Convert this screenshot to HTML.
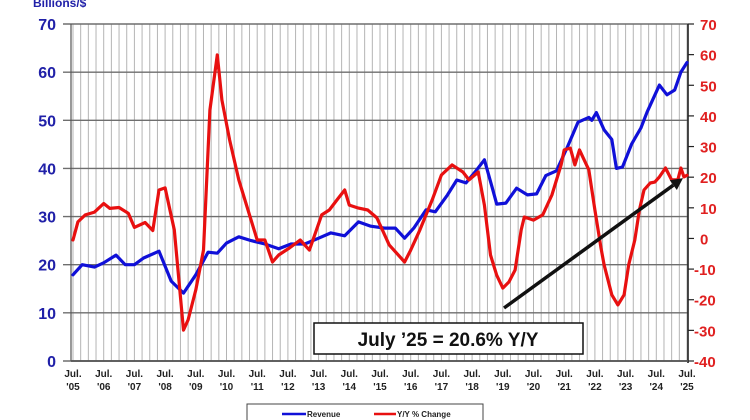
<!DOCTYPE html>
<html><head><meta charset="utf-8"><style>
html,body{margin:0;padding:0;background:#fff;}
svg{display:block;font-family:"Liberation Sans",Arial,sans-serif;}
</style></head><body>
<svg id="c" width="750" height="420" viewBox="0 0 750 420"></svg>
<script>
const revYears=[2005.5,2005.8,2006.2,2006.5,2006.9,2007.2,2007.5,2007.8,2008.3,2008.7,2009.1,2009.5,2009.9,2010.2,2010.5,2010.9,2011.3,2011.75,2012.2,2012.6,2013.05,2013.5,2013.9,2014.35,2014.8,2015.2,2015.65,2016.0,2016.3,2016.6,2017.0,2017.3,2017.7,2018.0,2018.3,2018.6,2018.9,2019.15,2019.3,2019.6,2019.95,2020.3,2020.6,2020.9,2021.25,2021.6,2021.95,2022.3,2022.4,2022.55,2022.8,2023.05,2023.2,2023.4,2023.7,2024.0,2024.2,2024.6,2024.85,2025.1,2025.3,2025.5];
const revValues=[17.9,20.0,19.5,20.4,22.0,20.0,20.0,21.4,22.8,16.6,14.1,17.9,22.6,22.4,24.5,25.8,25.0,24.3,23.3,24.3,24.3,25.5,26.6,26.0,28.9,28.0,27.6,27.6,25.5,27.6,31.4,31.0,34.5,37.6,37.0,39.3,41.8,36.1,32.6,32.8,35.9,34.5,34.7,38.5,39.5,44.4,49.6,50.6,50.0,51.6,48.0,46.0,40.0,40.3,45.1,48.4,51.7,57.3,55.3,56.3,60.0,62.0];
const yoyYears=[2005.5,2005.66,2005.9,2006.2,2006.5,2006.7,2007.0,2007.3,2007.5,2007.85,2008.1,2008.3,2008.5,2008.8,2009.1,2009.25,2009.5,2009.75,2009.96,2010.2,2010.35,2010.6,2010.9,2011.1,2011.3,2011.5,2011.75,2012.0,2012.2,2012.55,2012.9,2013.2,2013.6,2013.85,2014.1,2014.35,2014.5,2014.8,2015.1,2015.4,2015.8,2016.3,2016.5,2016.8,2017.2,2017.5,2017.85,2018.2,2018.4,2018.7,2018.9,2019.1,2019.3,2019.5,2019.7,2019.9,2020.1,2020.2,2020.5,2020.8,2021.1,2021.4,2021.5,2021.7,2021.85,2022.0,2022.3,2022.5,2022.7,2022.8,2023.05,2023.25,2023.45,2023.6,2023.8,2023.95,2024.1,2024.3,2024.45,2024.6,2024.8,2025.0,2025.2,2025.3,2025.4,2025.5];
const yoyValues=[-0.5,5.4,7.7,8.6,11.4,9.8,10.1,8.2,3.6,5.2,2.6,15.8,16.5,2.8,-29.9,-26.6,-16.8,-3.8,41.9,59.9,45.2,32.2,19.1,12.6,6.0,-0.5,-0.5,-7.7,-5.4,-3.1,-0.5,-3.8,7.7,9.3,12.6,15.8,10.9,9.9,9.3,6.7,-2.1,-7.7,-3.8,2.8,12.6,20.7,24.0,21.7,19.1,21.7,10.9,-5.4,-12.0,-16.2,-14.2,-10.3,2.8,7.0,6.0,7.7,14.2,24.0,28.9,29.5,24.0,28.9,22.4,9.3,-3.1,-8.6,-18.4,-21.7,-18.4,-8.6,-0.5,9.3,15.8,18.1,18.4,20.1,23.0,19.1,19.1,23.0,20.1,20.6];
const leftTicks=[0,10,20,30,40,50,60,70];
const rightTicks=[-40,-30,-20,-10,0,10,20,30,40,50,60,70];
const xLabels=["'05","'06","'07","'08","'09","'10","'11","'12","'13","'14","'15","'16","'17","'18","'19","'20","'21","'22","'23","'24","'25"];
const trendStart=[2019.54,-22.7], trendEnd=[2025.37,19.7];

const L=71,R=688,T=24,B=361;
const x=yr=>73+(yr-2005.5)*30.7;
const yL=v=>B-(v-0)/70*(B-T);
const yR=v=>B-(v+40)/110*(B-T);
const NS="http://www.w3.org/2000/svg";
const svg=document.getElementById('c');
function mk(tag,attrs,parent){const e=document.createElementNS(NS,tag);for(const k in attrs)e.setAttribute(k,attrs[k]);(parent||svg).appendChild(e);return e;}

// vertical quarterly grid
const g=mk('g',{});


for(let q=0;q<=81;q++){const xx=x(2005.5+q*0.25);if(xx>L&&xx<R)mk('line',{x1:xx,x2:xx,y1:T,y2:B,stroke:'#b4b4b4','stroke-width':1},g);}
// horizontal grid + left labels
leftTicks.forEach(v=>{
  mk('line',{x1:63,x2:R,y1:yL(v),y2:yL(v),stroke:'#6e6e6e','stroke-width':1.4},g);
  const t=mk('text',{x:56,y:yL(v)+6,'text-anchor':'end','font-size':16,'font-weight':'bold',fill:'#2020a8'});
  t.textContent=v;
  
  
});
rightTicks.forEach(v=>{
  mk('line',{x1:R,x2:R+6,y1:yR(v),y2:yR(v),stroke:'#222','stroke-width':1.2});
  const t=mk('text',{x:v<0?694:700,y:yR(v)+6,'font-size':15,'font-weight':'bold',fill:'#e02020'});
  t.textContent=v;
  
  
});
mk('line',{x1:L,x2:L,y1:T,y2:B,stroke:'#555','stroke-width':1.2});
mk('line',{x1:R,x2:R,y1:T,y2:B+2,stroke:'#222','stroke-width':1.6});
mk('line',{x1:L,x2:R,y1:B,y2:B,stroke:'#555','stroke-width':1.8});
const bt=mk('text',{x:33,y:7,'font-size':12,'font-weight':'bold',fill:'#2020a8'});
bt.textContent='Billions/$';



xLabels.forEach((lab,i)=>{
  const xx=x(2005.5+i);
  const t1=mk('text',{x:xx,y:377,'text-anchor':'middle','font-size':10,'font-weight':'bold',fill:'#222'});
  t1.textContent='Jul.';
  
  
  const t2=mk('text',{x:xx,y:390,'text-anchor':'middle','font-size':10,'font-weight':'bold',fill:'#222'});
  t2.textContent=lab;
  
  
});

function line(xs,vs,yf,col,name){
  const d=xs.map((yr,i)=>(i?'L':'M')+x(yr).toFixed(1)+' '+yf(vs[i]).toFixed(1)).join(' ');
  const p=mk('path',{d:d,fill:'none',stroke:col,'stroke-width':3.2,'stroke-linejoin':'round','stroke-linecap':'round'});
  
  
}
line(revYears,revValues,yL,'#1010d8','revenue-line');
line(yoyYears,yoyValues,yR,'#e81010','yoy-change-line');

// trend arrow
const ax1=x(trendStart[0]),ay1=yR(trendStart[1]),ax2=x(trendEnd[0]),ay2=yR(trendEnd[1]);
const ar=mk('g',{});


const ang=Math.atan2(ay2-ay1,ax2-ax1);
const bx=ax2-12*Math.cos(ang),by=ay2-12*Math.sin(ang);
mk('line',{x1:ax1,y1:ay1,x2:bx,y2:by,stroke:'#111','stroke-width':3.5},ar);
mk('polygon',{points:`${ax2},${ay2} ${bx-6*Math.sin(ang)},${by+6*Math.cos(ang)} ${bx+6*Math.sin(ang)},${by-6*Math.cos(ang)}`,fill:'#111'},ar);

// annotation box
const bx0=mk('rect',{x:314,y:323,width:269,height:31,fill:'#fff',stroke:'#111','stroke-width':1.5});


const at=mk('text',{x:448,y:346,'text-anchor':'middle','font-size':19,'font-weight':'bold',fill:'#111'});
at.textContent='July ’25 = 20.6% Y/Y';



// legend
const lg=mk('g',{});


mk('rect',{x:247,y:404,width:236,height:20,fill:'#fff',stroke:'#444','stroke-width':1},lg);
mk('line',{x1:282,x2:306,y1:414,y2:414,stroke:'#1010d8','stroke-width':2.5},lg);
const l1=mk('text',{x:307,y:417,'font-size':8,'font-weight':'bold',fill:'#222'},lg);
l1.textContent='Revenue';


mk('line',{x1:374,x2:396,y1:414,y2:414,stroke:'#e81010','stroke-width':2.5},lg);
const l2=mk('text',{x:397,y:417,'font-size':8,'font-weight':'bold',fill:'#222'},lg);
l2.textContent='Y/Y % Change';


</script>
</body></html>
